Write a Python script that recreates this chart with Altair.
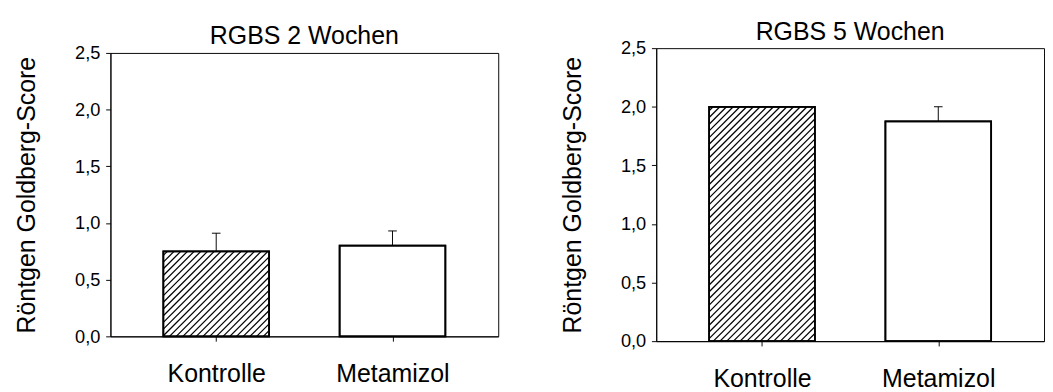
import altair as alt
import pandas as pd

categories = ["Kontrolle", "Metamizol"]
panel_titles = ["RGBS 2 Wochen", "RGBS 5 Wochen"]
means_2w = [0.75, 0.80]
sem_2w = [0.16, 0.13]
means_5w = [2.0, 1.875]
sem_5w = [0.0, 0.125]
hatched = [True, False]
y_ticks = [0.0, 0.5, 1.0, 1.5, 2.0, 2.5]
y_title = "Röntgen Goldberg-Score"

FONT = "Liberation Sans"
X_DOMAIN = [0.4, 2.6]
Y_DOMAIN = [0.0, 2.5]
HALF = 0.3          # half bar width in x units
HATCH_STEP = 7.0    # horizontal spacing of hatch lines (px)
CAP_PX = 4.5        # half width of error cap (px)


def panel(title, means, sems, width, height):
    xs = [i + 1 for i in range(len(categories))]
    sx = width / (X_DOMAIN[1] - X_DOMAIN[0])
    sy = height / (Y_DOMAIN[1] - Y_DOMAIN[0])

    bars = pd.DataFrame({
        "x0": [x - HALF for x in xs],
        "x1": [x + HALF for x in xs],
        "y0": [0.0] * len(xs),
        "y": means,
        "cat": categories,
    })

    # hatch segments, derived from the bar geometry
    hrows = []
    for x, m, h in zip(xs, means, hatched):
        if not h:
            continue
        W = 2 * HALF * sx
        H = m * sy
        u = -H + HATCH_STEP * 0.6
        while u < W:
            Xa = max(0.0, u)
            Xb = min(W, H + u)
            if Xb > Xa:
                hrows.append({
                    "xa": x - HALF + Xa / sx, "ya": (Xa - u) / sy,
                    "xb": x - HALF + Xb / sx, "yb": (Xb - u) / sy,
                })
            u += HATCH_STEP
    hatch = pd.DataFrame(hrows if hrows else [{"xa": 1, "ya": 0, "xb": 1, "yb": 0}])

    erows = []
    crows = []
    for x, m, s in zip(xs, means, sems):
        if s > 0:
            erows.append({"x": x, "y": m, "y2": m + s})
            crows.append({"xa": x - CAP_PX / sx, "xb": x + CAP_PX / sx, "y": m + s})
    err = pd.DataFrame(erows)
    cap = pd.DataFrame(crows)

    xscale = alt.Scale(domain=X_DOMAIN, nice=False, zero=False)
    yscale = alt.Scale(domain=Y_DOMAIN, nice=False)
    label_expr = "[" + ",".join("'" + c + "'" for c in categories) + "][datum.value - 1]"
    xaxis = alt.Axis(
        values=xs, labelExpr=label_expr, title=None, grid=False,
        labelFontSize=26, labelPadding=21, tickSize=5, labelFont=FONT)
    yaxis = alt.Axis(
        values=y_ticks, labelExpr="replace(format(datum.value, '.1f'), '.', ',')",
        title=y_title, grid=False, labelFontSize=19, labelPadding=6, tickSize=5,
        titleFontSize=26, titleFontWeight="normal", titlePadding=37, labelFont=FONT,
        titleFont=FONT)

    base_bars = alt.Chart(bars).mark_rect(fill="white", stroke="black", strokeWidth=1.8).encode(
        x=alt.X("x0:Q", scale=xscale, axis=xaxis, title=None),
        x2="x1:Q",
        y=alt.Y("y0:Q", scale=yscale, axis=yaxis, title=y_title),
        y2="y:Q",
    )
    hatch_layer = alt.Chart(hatch).mark_rule(color="black", strokeWidth=1.3).encode(
        x=alt.X("xa:Q", scale=xscale, axis=xaxis, title=None), x2="xb:Q",
        y=alt.Y("ya:Q", scale=yscale, axis=yaxis, title=y_title), y2="yb:Q",
    )
    outline = alt.Chart(bars).mark_rect(fillOpacity=0, stroke="black", strokeWidth=1.8).encode(
        x=alt.X("x0:Q", scale=xscale, axis=xaxis, title=None), x2="x1:Q",
        y=alt.Y("y0:Q", scale=yscale, axis=yaxis, title=y_title), y2="y:Q",
    )
    layers = [base_bars, hatch_layer, outline]
    if len(err):
        layers.append(alt.Chart(err).mark_rule(color="black", strokeWidth=1).encode(
            x=alt.X("x:Q", scale=xscale, axis=xaxis, title=None),
            y=alt.Y("y:Q", scale=yscale, axis=yaxis, title=y_title), y2="y2:Q"))
        layers.append(alt.Chart(cap).mark_rule(color="black", strokeWidth=1).encode(
            x=alt.X("xa:Q", scale=xscale, axis=xaxis, title=None), x2="xb:Q",
            y=alt.Y("y:Q", scale=yscale, axis=yaxis, title=y_title)))
    return alt.layer(*layers).properties(
        width=width, height=height,
        title=alt.TitleParams(title, fontSize=26, font=FONT, fontWeight="normal", offset=-5),
    )


left = panel(panel_titles[0], means_2w, sem_2w, 405, 296)
right = panel(panel_titles[1], means_5w, sem_5w, 405, 306)

chart = alt.hconcat(left, right, spacing=63, center=True).properties(
    padding={"left": 6, "top": 2, "right": 0, "bottom": 0}
).configure_view(stroke="black", strokeWidth=1).configure_axis(
    domainColor="black", tickColor="black", labelColor="black", titleColor="black",
    domainWidth=1, tickWidth=1,
).configure_title(color="black")

chart.save("out.html", embed_options={"renderer": "svg", "actions": False})
